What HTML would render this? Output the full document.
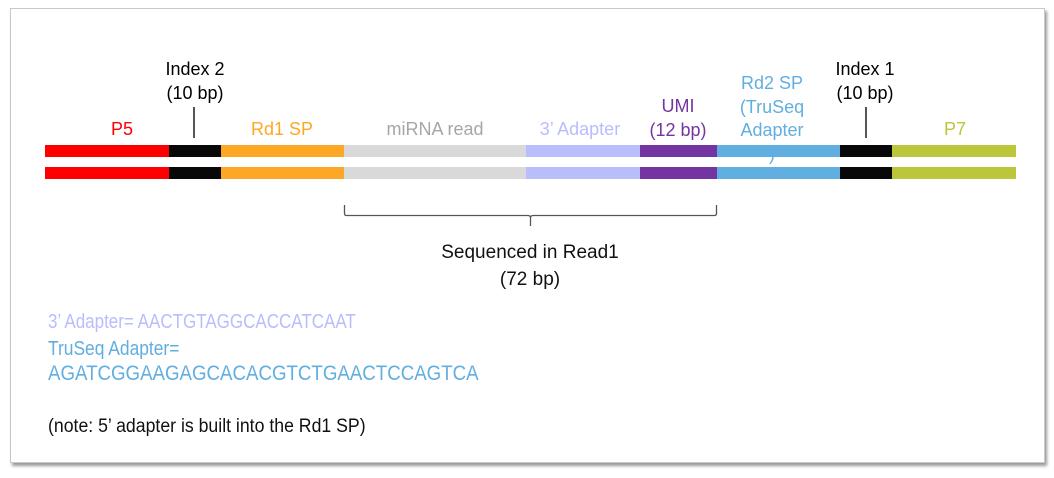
<!DOCTYPE html>
<html><head><style>
body{margin:0;width:1054px;height:478px;background:#fff;position:relative;overflow:hidden;font-family:"Liberation Sans",sans-serif}
.frame{position:absolute;left:10px;top:8px;width:1033px;height:453px;border:1px solid #c8c8c8;box-shadow:2px 3px 3px #9a9a9a}
.seg{position:absolute;height:12px}
.t{position:absolute;font-size:18px;text-align:center;line-height:23.5px;white-space:nowrap}
.ln{position:absolute;background:#555;width:1.5px}
.n{position:absolute;white-space:nowrap;transform-origin:0 0;line-height:24px}
</style></head><body>
<div class="frame"></div>
<div class="seg" style="left:45px;width:124px;top:145px;background:#ff0000"></div>
<div class="seg" style="left:169px;width:52px;top:145px;background:#080808"></div>
<div class="seg" style="left:221px;width:123px;top:145px;background:#fda726"></div>
<div class="seg" style="left:344px;width:182px;top:145px;background:#d9d9d9"></div>
<div class="seg" style="left:526px;width:114px;top:145px;background:#b9bdfc"></div>
<div class="seg" style="left:640px;width:77px;top:145px;background:#7434a2"></div>
<div class="seg" style="left:717px;width:123px;top:145px;background:#61aee0"></div>
<div class="seg" style="left:840px;width:52px;top:145px;background:#080808"></div>
<div class="seg" style="left:892px;width:124px;top:145px;background:#bcc63b"></div>

<div class="seg" style="left:45px;width:124px;top:167px;background:#ff0000"></div>
<div class="seg" style="left:169px;width:52px;top:167px;background:#080808"></div>
<div class="seg" style="left:221px;width:123px;top:167px;background:#fda726"></div>
<div class="seg" style="left:344px;width:182px;top:167px;background:#d9d9d9"></div>
<div class="seg" style="left:526px;width:114px;top:167px;background:#b9bdfc"></div>
<div class="seg" style="left:640px;width:77px;top:167px;background:#7434a2"></div>
<div class="seg" style="left:717px;width:123px;top:167px;background:#61aee0"></div>
<div class="seg" style="left:840px;width:52px;top:167px;background:#080808"></div>
<div class="seg" style="left:892px;width:124px;top:167px;background:#bcc63b"></div>

<div class="t" style="left:97px;width:50px;top:118px;color:#ff0000">P5</div>
<div class="t" style="left:145px;width:100px;top:58px;color:#000">Index 2<br>(10 bp)</div>
<div class="ln" style="left:193px;top:107px;height:31px"></div>
<div class="t" style="left:232px;width:100px;top:118px;color:#fda726">Rd1 SP</div>
<div class="t" style="left:375px;width:120px;top:118px;color:#a6a6a6">miRNA read</div>
<div class="t" style="left:520px;width:120px;top:118px;color:#b9bdfc">3’ Adapter</div>
<div class="t" style="left:633px;width:90px;top:95px;color:#7434a2">UMI<br>(12 bp)</div>
<div class="t" style="left:722px;width:100px;top:72px;color:#61aee0">Rd2 SP<br>(TruSeq<br>Adapter<br>)</div>
<div class="t" style="left:815px;width:100px;top:58px;color:#000">Index 1<br>(10 bp)</div>
<div class="ln" style="left:865px;top:107px;height:31px"></div>
<div class="t" style="left:930px;width:50px;top:118px;color:#bcc63b">P7</div>

<svg style="position:absolute;left:0;top:0" width="1054" height="478">
<path d="M344.5 205 V213.5 Q344.5 215.5 346.5 215.5 H528 Q530.5 215.5 530.5 218 V226 M530.5 218 Q530.5 215.5 533 215.5 H714.5 Q716.5 215.5 716.5 213.5 V205" fill="none" stroke="#555" stroke-width="1.3"/>
</svg>
<div class="t" style="left:420px;width:220px;top:239px;font-size:19px;line-height:27px;color:#111">Sequenced in Read1<br>(72 bp)</div>

<div class="n" style="left:48px;top:310px;font-size:20px;color:#b9bdfc;transform:scaleX(0.85)">3’ Adapter= AACTGTAGGCACCATCAAT</div>
<div class="n" style="left:48px;top:337px;font-size:20px;color:#61aee0;transform:scaleX(0.87)">TruSeq Adapter=</div>
<div class="n" style="left:48px;top:362px;font-size:21px;color:#61aee0;transform:scaleX(0.89)">AGATCGGAAGAGCACACGTCTGAACTCCAGTCA</div>
<div class="n" style="left:48px;top:415px;font-size:19px;color:#111;transform:scaleX(0.93)">(note: 5’ adapter is built into the Rd1 SP)</div>
</body></html>
